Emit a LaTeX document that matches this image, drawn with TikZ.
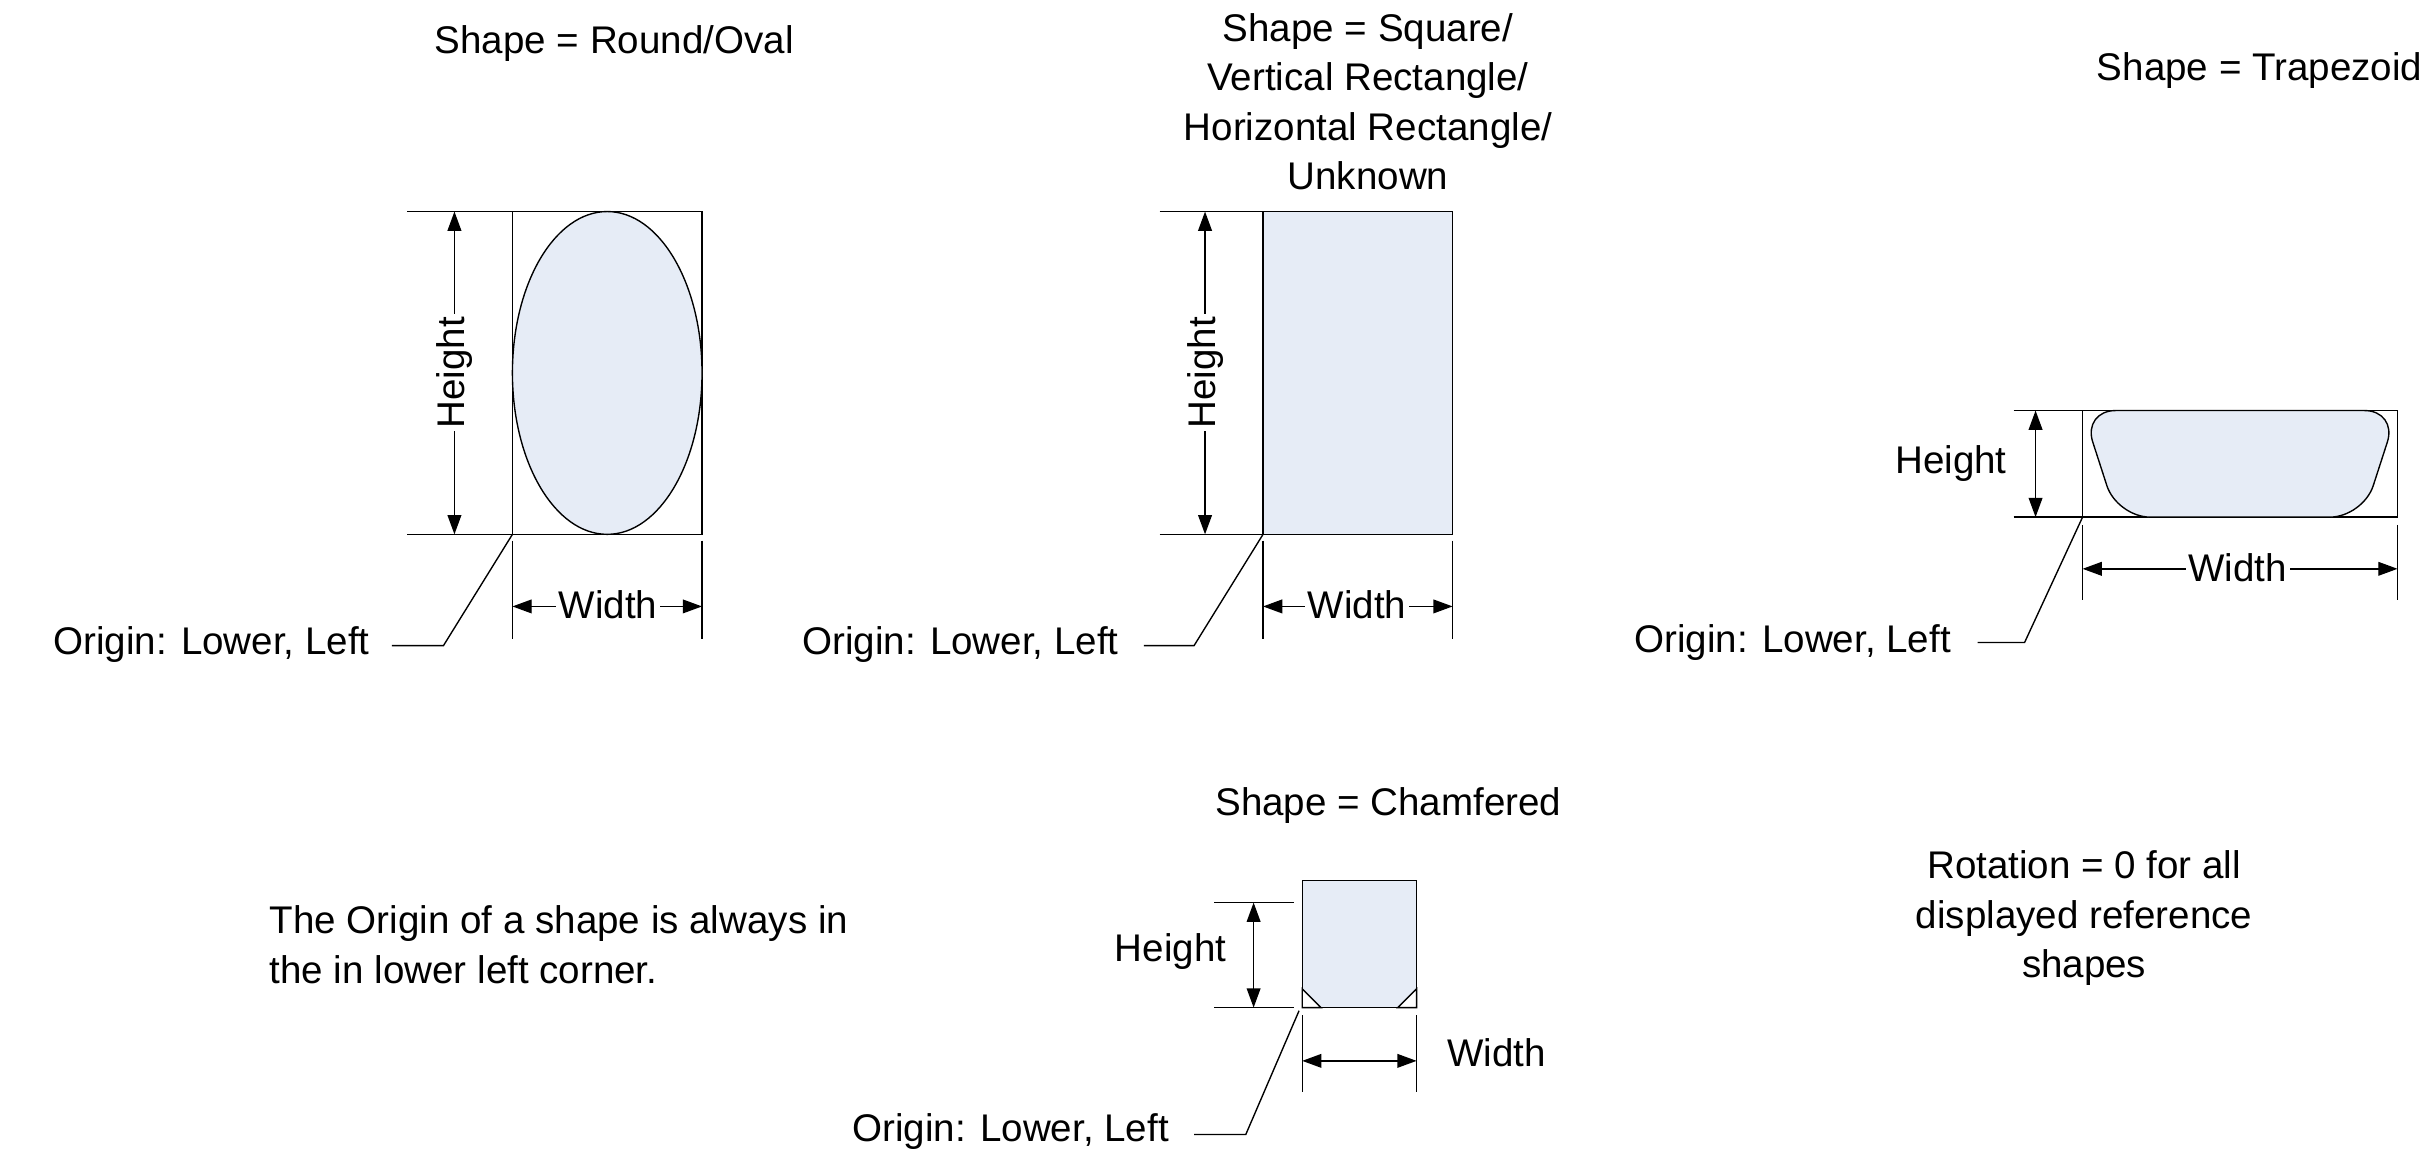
\documentclass[tikz,border=0pt]{standalone}
\usepackage{fontspec}
\setmainfont{Liberation Sans}
\usetikzlibrary{arrows.meta}
\definecolor{shapefill}{HTML}{E6ECF6}
\tikzset{
  lbl/.style={font=\fontsize{14}{18}\selectfont, inner sep=1pt},
  thin line/.style={line width=0.5pt},
  dim/.style={thin line, {Triangle[length=7pt,width=5pt]}-{Triangle[length=7pt,width=5pt]}},
  refbox/.style={thin line, draw=black},
}
\begin{document}
\begin{tikzpicture}[x=0.02cm, y=-0.02cm]
			\useasboundingbox (0,0) rectangle (1552,746);
			% Round / Oval
			\node[lbl] (ovaltitle) at (392,28) {Shape = Round/Oval};
			\draw[refbox] (327,135) rectangle (448,341);
			\draw[thin line, fill=shapefill] (387.5,238) ellipse [x radius=60.5, y radius=103];
			\coordinate (ovalH1) at (290,135); \coordinate (ovalH2) at (290,341);
			\draw[thin line] (260,135) -- (327,135) (260,341) -- (327,341);
			\draw[dim] (ovalH1) -- (ovalH2);
			\node[lbl, rotate=90, fill=white] (ovalh) at (290,238) {Height};
			\draw[thin line] (327,345) -- (327,408) (448,345) -- (448,408);
			\coordinate (ovalW1) at (327,387); \coordinate (ovalW2) at (448,387);
			\draw[dim] (ovalW1) -- (ovalW2);
			\node[lbl, fill=white] (ovalw) at (388,386) {Width};
			\coordinate (ovalO) at (327,341);
			\node[lbl, anchor=east] (ovalorigin) at (238,411) {Origin: Lower, Left};
			\draw[thin line] (ovalO) -- (283,412) -- (250,412);
			
			% Square / Rectangle
			\node[lbl, align=center] (recttitle) at (873,65) {Shape = Square/\\Vertical Rectangle/\\Horizontal Rectangle/\\Unknown};
			\draw[refbox, fill=shapefill] (806,135) rectangle (927,341);
			\coordinate (rectH1) at (769,135); \coordinate (rectH2) at (769,341);
			\draw[thin line] (740,135) -- (806,135) (740,341) -- (806,341);
			\draw[dim] (rectH1) -- (rectH2);
			\node[lbl, rotate=90, fill=white] (recth) at (769,238) {Height};
			\draw[thin line] (806,345) -- (806,408) (927,345) -- (927,408);
			\coordinate (rectW1) at (806,387); \coordinate (rectW2) at (927,387);
			\draw[dim] (rectW1) -- (rectW2);
			\node[lbl, fill=white] (rectw) at (866,386) {Width};
			\coordinate (rectO) at (806,341);
			\node[lbl, anchor=east] (rectorigin) at (716,411) {Origin: Lower, Left};
			\draw[thin line] (rectO) -- (762,412) -- (730,412);
			
			% Trapezoid
			\node[lbl] (traptitle) at (1442,45) {Shape = Trapezoid};
			\draw[refbox] (1329,262) rectangle (1530,330);
			\draw[thin line, fill=shapefill, rounded corners=12] (1329,262) -- (1530,262) -- (1508,330) -- (1351,330) -- cycle;
			\draw[thin line] (1285,262) -- (1329,262) (1285,330) -- (1329,330);
			\coordinate (trapH1) at (1299,262); \coordinate (trapH2) at (1299,330);
			\draw[dim] (trapH1) -- (trapH2);
			\node[lbl] (traph) at (1245,296) {Height};
			\draw[thin line] (1329,335) -- (1329,383) (1530,335) -- (1530,383);
			\coordinate (trapW1) at (1329,363); \coordinate (trapW2) at (1530,363);
			\draw[dim] (trapW1) -- (trapW2);
			\node[lbl, fill=white] (trapw) at (1428,362) {Width};
			\coordinate (trapO) at (1329,330);
			\node[lbl, anchor=east] (traporigin) at (1247,410) {Origin: Lower, Left};
			\draw[thin line] (trapO) -- (1292,410) -- (1262,410);
			
			% Chamfered
			\node[lbl] (chamtitle) at (886,514) {Shape = Chamfered};
			\draw[refbox, fill=shapefill] (831,562) rectangle (904,643);
			\draw[thin line, fill=white] (831,631) -- (843,643) -- (831,643) -- cycle;
			\draw[thin line, fill=white] (904,631) -- (892,643) -- (904,643) -- cycle;
			\draw[refbox] (831,562) rectangle (904,643);
			\draw[thin line] (775,576) -- (826,576) (775,643) -- (826,643);
			\coordinate (chamH1) at (800,576); \coordinate (chamH2) at (800,643);
			\draw[dim] (chamH1) -- (chamH2);
			\node[lbl] (chamh) at (747,607) {Height};
			\draw[thin line] (831,648) -- (831,697) (904,648) -- (904,697);
			\coordinate (chamW1) at (831,677); \coordinate (chamW2) at (904,677);
			\draw[dim] (chamW1) -- (chamW2);
			\node[lbl] (chamw) at (955,672) {Width};
			\coordinate (chamO) at (829,645);
			\node[lbl, anchor=east] (chamorigin) at (748,722) {Origin: Lower, Left};
			\draw[thin line] (chamO) -- (795,724) -- (762,724);
			
			% Notes
			\node[lbl, align=left, anchor=west] (originnote) at (170,603) {The Origin of a shape is always in\\the in lower left corner.};
			\node[lbl, align=center] (rotnote) at (1330,586) {Rotation = 0 for all\\displayed reference\\shapes};
		\end{tikzpicture}
\end{document}
